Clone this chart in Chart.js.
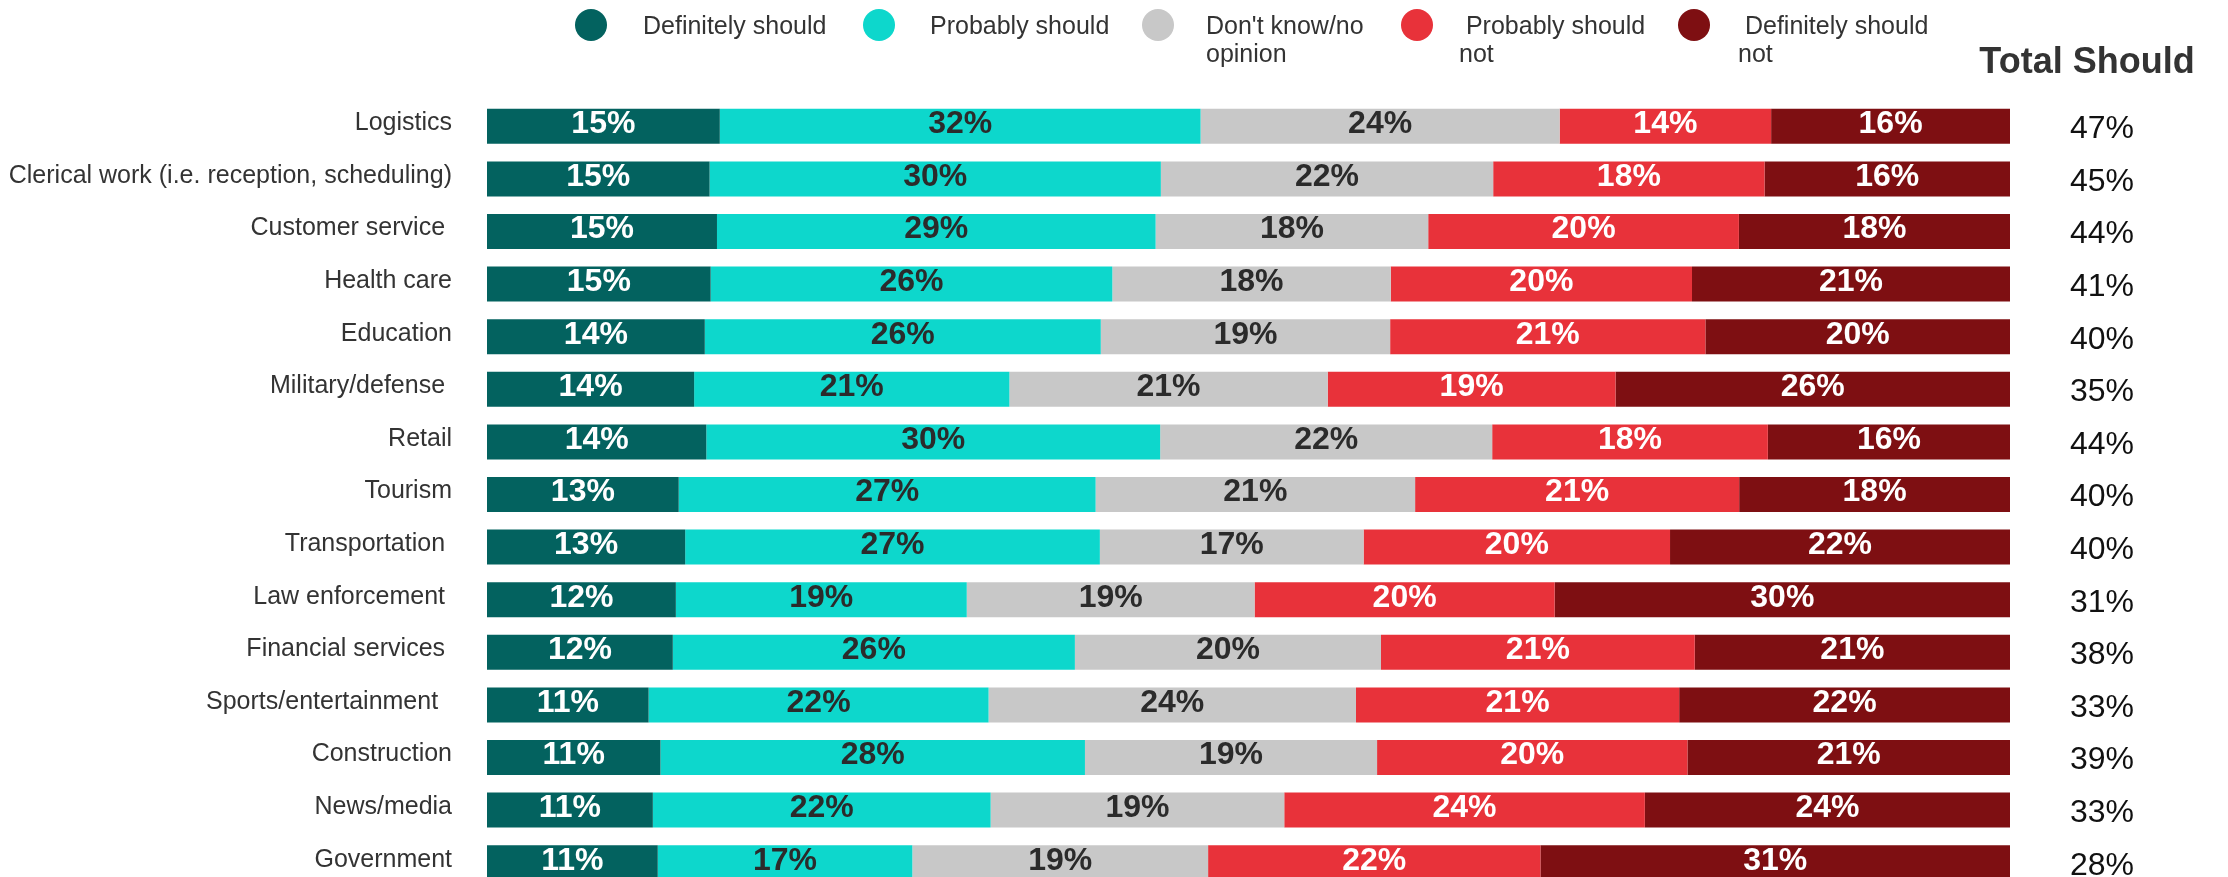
<!DOCTYPE html>
<html>
<head>
<meta charset="utf-8">
<script src="https://cdn.jsdelivr.net/npm/chart.js@4.4.1/dist/chart.umd.min.js"></script>
<style>
html, body { margin: 0; padding: 0; background: #ffffff; overflow: hidden; width: 2228px; height: 877px; }
canvas { display: block; }
</style>
</head>
<body>
<canvas id="chart" width="2228" height="989"></canvas>
<script>
// ---------- data ----------
const categories = [
  'Logistics',
  'Clerical work (i.e. reception, scheduling)',
  'Customer service ',
  'Health care',
  'Education',
  'Military/defense ',
  'Retail',
  'Tourism',
  'Transportation ',
  'Law enforcement ',
  'Financial services ',
  'Sports/entertainment  ',
  'Construction',
  'News/media',
  'Government'
];
const seriesNames = ['Definitely should', 'Probably should', "Don't know/no opinion", 'Probably should not', 'Definitely should not'];

const definitelyShould    = [15.3, 14.6, 15.1, 14.7, 14.3, 13.6, 14.4, 12.6, 13.0, 12.4, 12.2, 10.6, 11.4, 10.9, 11.2];
const probablyShould      = [31.6, 29.6, 28.8, 26.4, 26.0, 20.7, 29.8, 27.4, 27.2, 19.1, 26.4, 22.3, 27.9, 22.2, 16.7];
const dontKnow            = [23.6, 21.8, 17.9, 18.3, 19.0, 20.9, 21.8, 21.0, 17.3, 18.9, 20.1, 24.1, 19.2, 19.3, 19.4];
const probablyShouldNot   = [13.9, 17.8, 20.4, 19.8, 20.7, 18.9, 18.1, 21.3, 20.1, 19.7, 20.6, 21.2, 20.4, 23.7, 21.8];
const definitelyShouldNot = [15.7, 16.1, 17.8, 20.9, 20.0, 25.9, 15.9, 17.8, 22.3, 29.9, 20.7, 21.7, 21.2, 24.0, 30.8];
const totalShould         = [47, 45, 44, 41, 40, 35, 44, 40, 40, 31, 38, 33, 39, 33, 28];

// ---------- styling ----------
const FONT = '"Liberation Sans", Arial, Helvetica, sans-serif';
const seriesColors = ['#03625f', '#0dd7cc', '#c8c8c8', '#e8323a', '#7e0f12'];
const labelColors  = ['#ffffff', '#2b2b2b', '#2b2b2b', '#ffffff', '#ffffff'];
const legendLines  = [['Definitely should'], ['Probably should'], ["Don't know/no", 'opinion'], [' Probably should', 'not'], [' Definitely should', 'not']];
const legendCircleX = [591, 879, 1158, 1417, 1694];
const legendTextX   = [643, 930, 1206, 1459, 1738];

Chart.defaults.font.family = FONT;

const series = [definitelyShould, probablyShould, dontKnow, probablyShouldNot, definitelyShouldNot];
const rowSums = categories.map((_, i) => series.reduce((s, arr) => s + arr[i], 0));

const datasets = series.map((arr, k) => ({
  label: seriesNames[k],
  data: arr.map((v, i) => v / rowSums[i] * 100),
  backgroundColor: seriesColors[k],
  borderWidth: 0,
  categoryPercentage: 0.665,
  barPercentage: 1,
  yAxisID: 'y',
  xAxisID: 'x'
}));

const overlay = {
  id: 'overlay',
  afterDatasetsDraw(chart) {
    const ctx = chart.ctx;
    ctx.save();
    // value labels inside the segments
    ctx.font = 'bold 32px ' + FONT;
    ctx.textAlign = 'center';
    ctx.textBaseline = 'middle';
    chart.data.datasets.forEach((ds, k) => {
      const meta = chart.getDatasetMeta(k);
      meta.data.forEach((bar, i) => {
        ctx.fillStyle = labelColors[k];
        ctx.fillText(Math.round(series[k][i]) + '%', (bar.x + bar.base) / 2, bar.y - 2);
      });
    });
    // header of the right column
    ctx.font = 'bold 36px ' + FONT;
    ctx.fillStyle = '#333333';
    ctx.fillText('Total Should', chart.chartArea.right + 77, 63);
    // legend
    ctx.textAlign = 'left';
    ctx.textBaseline = 'alphabetic';
    ctx.font = '25px ' + FONT;
    seriesNames.forEach((name, k) => {
      ctx.fillStyle = seriesColors[k];
      ctx.beginPath();
      ctx.arc(legendCircleX[k], 25, 16, 0, Math.PI * 2);
      ctx.fill();
      ctx.fillStyle = '#333333';
      legendLines[k].forEach((line, j) => {
        ctx.fillText(line, legendTextX[k], 34 + j * 28);
      });
    });
    ctx.restore();
  }
};

new Chart(document.getElementById('chart'), {
  type: 'bar',
  data: { labels: categories, datasets },
  options: {
    indexAxis: 'y',
    responsive: false,
    animation: false,
    devicePixelRatio: 1,
    layout: { autoPadding: false, padding: { top: 100, bottom: 100, left: 0, right: 0 } },
    plugins: { legend: { display: false }, tooltip: { enabled: false } },
    scales: {
      x: { stacked: true, min: 0, max: 100, display: false },
      y: {
        stacked: true,
        position: 'left',
        offset: true,
        grid: { display: false, drawTicks: false },
        border: { display: false },
        ticks: { padding: 35, color: '#333333', font: { size: 25 }, labelOffset: -3, autoSkip: false },
        afterFit(scale) { scale.width = 487; }
      },
      y2: {
        type: 'category',
        labels: categories,
        position: 'right',
        offset: true,
        grid: { display: false, drawTicks: false },
        border: { display: false },
        ticks: {
          padding: 60,
          color: '#111111',
          font: { size: 32 },
          labelOffset: 3,
          autoSkip: false,
          callback: (value, index) => totalShould[index] + '%'
        },
        afterFit(scale) { scale.width = 218; }
      }
    }
  },
  plugins: [overlay]
});
</script>
</body>
</html>
